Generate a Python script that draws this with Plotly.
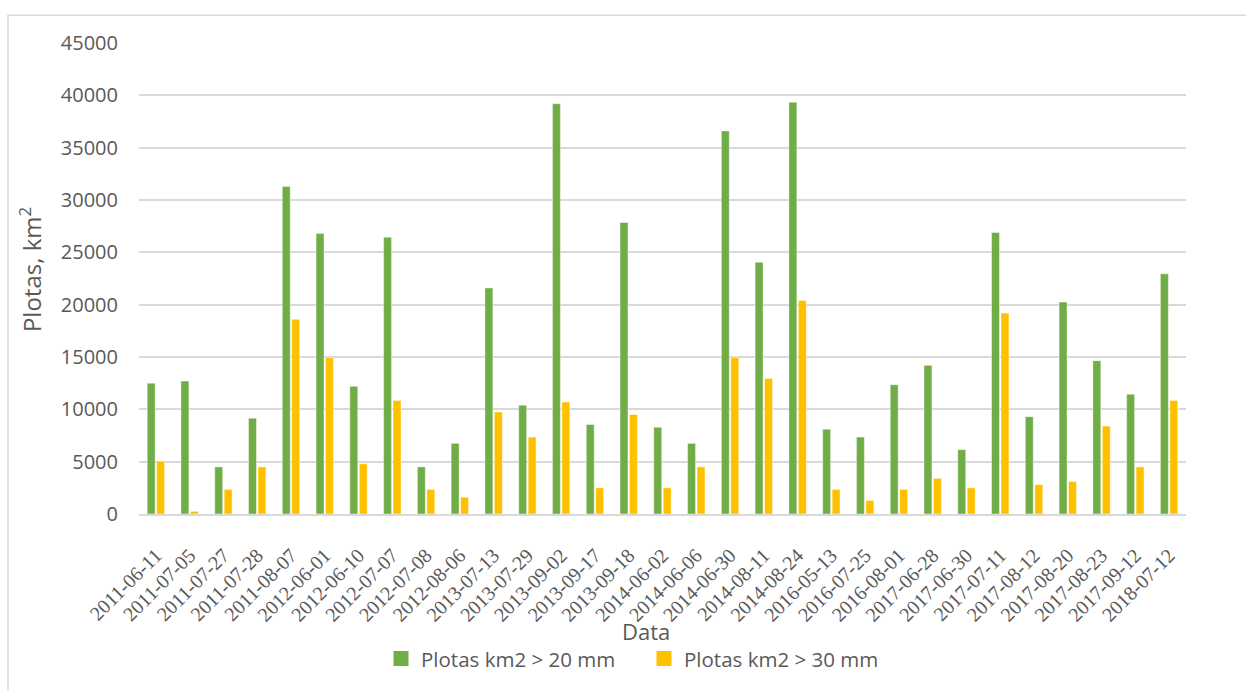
import plotly.graph_objects as go

# Dates of the heavy-rain events
dates = [
    "2011-06-11", "2011-07-05", "2011-07-27", "2011-07-28", "2011-08-07",
    "2012-06-01", "2012-06-10", "2012-07-07", "2012-07-08", "2012-08-06",
    "2013-07-13", "2013-07-29", "2013-09-02", "2013-09-17", "2013-09-18",
    "2014-06-02", "2014-06-06", "2014-06-30", "2014-08-11", "2014-08-24",
    "2016-05-13", "2016-07-25", "2016-08-01", "2017-06-28", "2017-06-30",
    "2017-07-11", "2017-08-12", "2017-08-20", "2017-08-23", "2017-09-12",
    "2018-07-12",
]

# Area (km2) with precipitation above 20 mm
area_20mm = [
    12500, 12700, 4500, 9150, 31300,
    26800, 12200, 26450, 4500, 6750,
    21600, 10400, 39200, 8550, 27850,
    8300, 6750, 36600, 24050, 39350,
    8100, 7350, 12350, 14200, 6150,
    26900, 9300, 20250, 14650, 11450,
    22950,
]

# Area (km2) with precipitation above 30 mm
area_30mm = [
    5050, 250, 2350, 4500, 18600,
    14950, 4800, 10850, 2350, 1600,
    9750, 7350, 10700, 2500, 9500,
    2500, 4500, 14950, 12950, 20400,
    2350, 1300, 2350, 3400, 2500,
    19200, 2800, 3100, 8400, 4500,
    10850,
]

series_names = ["Plotas km2 > 20 mm", "Plotas km2 > 30 mm"]
series_colors = ["#70AD47", "#FFC000"]

y_ticks = [0, 5000, 10000, 15000, 20000, 25000, 30000, 35000, 40000, 45000]
y_ticktext = [str(v) for v in y_ticks]

SANS = "Open Sans"
SERIF = "Liberation Serif"
TEXT_GREY = "#595959"
GRID_GREY = "#d9d9d9"

fig = go.Figure()
for name, color, values in zip(series_names, series_colors, [area_20mm, area_30mm]):
    fig.add_trace(go.Bar(
        x=dates, y=values, name=name, showlegend=False, legendgroup=name,
        marker=dict(color=color, line=dict(color="rgba(255,255,255,0.55)", width=0.8)),
    ))

# Legend entries with larger square keys
for name, color in zip(series_names, series_colors):
    fig.add_trace(go.Scatter(
        x=[None], y=[None], mode="markers", name=name, legendgroup=name,
        marker=dict(symbol="square", size=15, color=color),
        hoverinfo="skip",
    ))

W, H = 1246, 691
L, R, T, B = 139, 60, 43, 173
pw, ph = W - L - R, H - T - B


def px_x(px):
    return (px - L) / pw


def px_y(py):
    return (H - B - py) / ph


fig.update_layout(
    width=W, height=H,
    margin=dict(l=L, r=R, t=T, b=B),
    paper_bgcolor="white", plot_bgcolor="white",
    barmode="group", bargap=0.44, bargroupgap=0.16,
    font=dict(family=SANS, color=TEXT_GREY, size=20),
    showlegend=True,
    legend=dict(
        orientation="h", x=px_x(381), y=px_y(664),
        xanchor="left", yanchor="middle",
        font=dict(family=SANS, size=20.5, color=TEXT_GREY),
        entrywidth=218, entrywidthmode="pixels",
        itemwidth=30, itemsizing="trace", traceorder="normal",
        bgcolor="rgba(0,0,0,0)",
    ),
    xaxis=dict(
        type="category", tickangle=-45,
        tickfont=dict(family=SERIF, size=20, color=TEXT_GREY),
        showgrid=False, showline=True, linecolor=GRID_GREY, linewidth=1.5,
        ticks="", ticklabelstandoff=20,
    ),
    yaxis=dict(
        range=[0, 45000], tickvals=y_ticks, ticktext=y_ticktext,
        tickfont=dict(family=SANS, size=20, color=TEXT_GREY),
        showgrid=True, gridcolor=GRID_GREY, gridwidth=1.5,
        zeroline=False, showline=False, ticks="", ticklabelstandoff=20,
    ),
    annotations=[
        dict(text="Plotas, km<sup>2</sup>", textangle=-90, showarrow=False,
             xref="paper", yref="paper", x=px_x(30), y=px_y(272),
             xanchor="center", yanchor="middle",
             font=dict(family=SANS, size=24, color=TEXT_GREY)),
        dict(text="Data", showarrow=False,
             xref="paper", yref="paper", x=px_x(646), y=px_y(636),
             xanchor="center", yanchor="middle",
             font=dict(family=SANS, size=22, color=TEXT_GREY)),
    ],
    shapes=[
        dict(type="rect", xref="paper", yref="paper",
             x0=px_x(8), x1=px_x(1260), y0=px_y(705), y1=px_y(15),
             line=dict(color=GRID_GREY, width=1.5), fillcolor="rgba(0,0,0,0)",
             layer="below"),
    ],
)

fig.write_html("out.html")
